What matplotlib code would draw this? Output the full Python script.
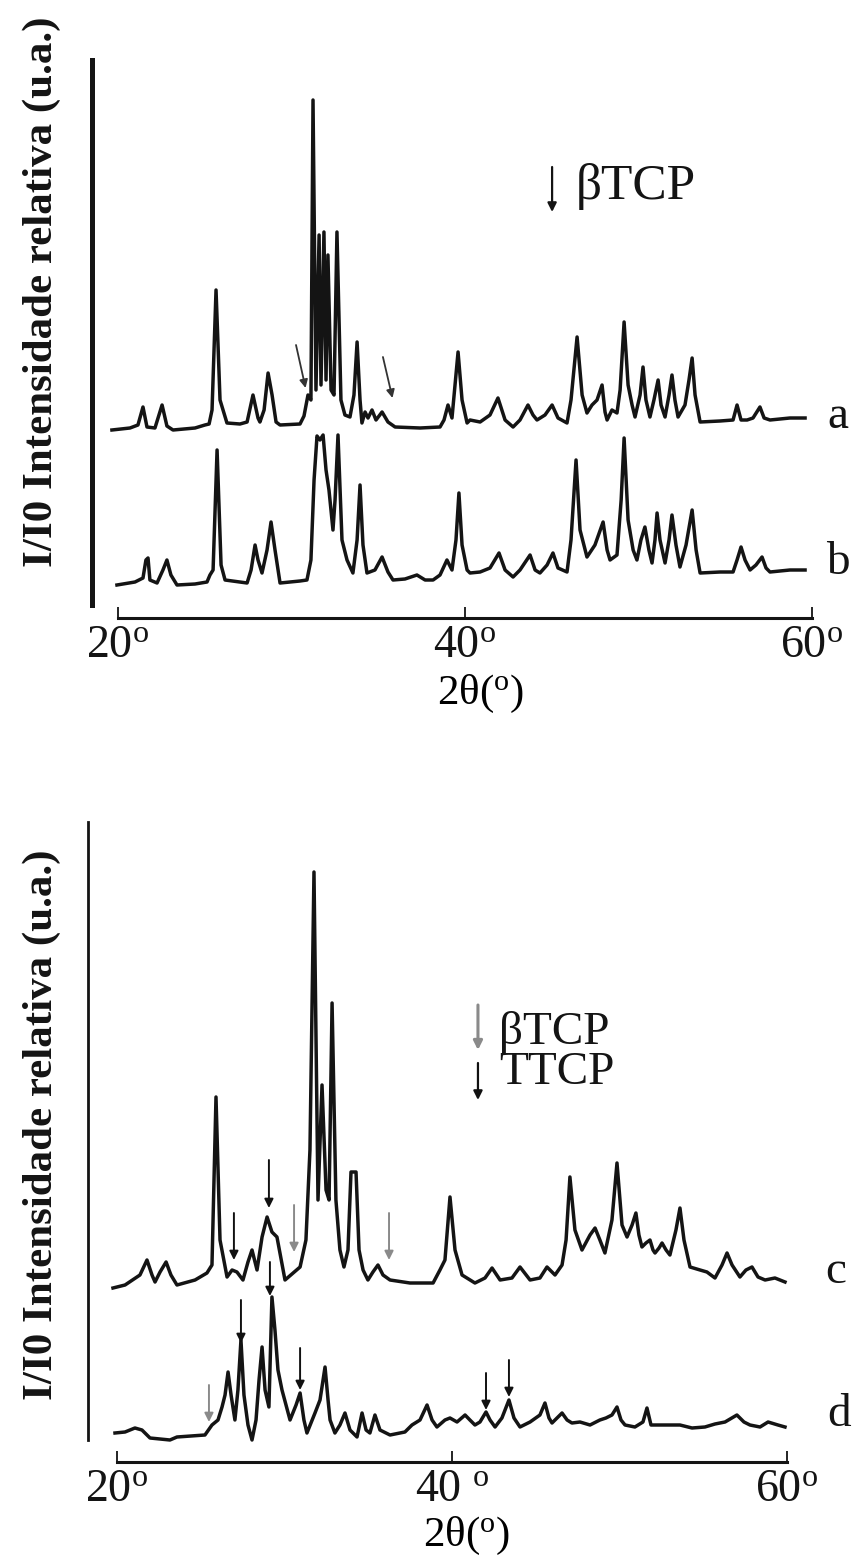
import matplotlib
matplotlib.use('Agg')
import matplotlib.pyplot as plt
from matplotlib.lines import Line2D

plt.rcParams['font.family'] = ['Liberation Serif', 'DejaVu Serif']
plt.rcParams['mathtext.fontset'] = 'custom'
plt.rcParams['mathtext.rm'] = 'Liberation Serif'
plt.rcParams['mathtext.it'] = 'Liberation Serif:italic'
plt.rcParams['mathtext.bf'] = 'Liberation Serif:bold'

# ---------------- data (2theta in degrees, relative intensity in a.u., stacked) ----------------
trace_a = [(19.65,188),(20.69,190),(21.15,193),(21.44,211),(21.67,191),(22.13,190),(22.54,213),(22.82,192),
           (23.17,188),(24.44,190),(25.01,193),(25.25,194),(25.42,208),(25.65,328),(25.88,218),(26.28,195),
           (27.03,194),(27.44,196),(27.78,223),(28.07,200),(28.18,196),(28.42,208),(28.65,245),(28.88,223),
           (29.11,196),(29.34,193),(30.49,194),(30.72,202),(30.95,223),(31.12,218),(31.24,518),(31.41,228),
           (31.59,383),(31.70,233),(31.87,386),(31.99,238),(32.10,363),(32.28,228),(32.45,223),(32.62,386),
           (32.85,218),(33.08,203),(33.37,201),(33.60,223),(33.78,276),(33.95,218),(34.06,195),(34.24,206),
           (34.41,200),(34.64,208),(34.87,198),(35.22,206),(35.56,196),(35.97,191),(37.41,190),(38.56,191),
           (38.79,198),(39.02,213),(39.25,200),(39.60,266),(39.83,218),(40.12,195),(40.29,198),(40.87,196),
           (41.44,203),(41.90,220),(42.31,198),(42.77,191),(43.17,198),(43.63,213),(43.92,203),(44.15,198),
           (44.61,203),(45.02,213),(45.36,200),(45.88,195),(46.11,218),(46.46,281),(46.75,223),(47.03,205),
           (47.32,213),(47.61,218),(47.90,233),(48.07,206),(48.19,198),(48.47,208),(48.76,205),(48.94,228),
           (49.17,296),(49.40,233),(49.63,213),(49.80,201),(50.09,223),(50.26,251),(50.43,218),(50.66,201),
           (50.89,218),(51.13,238),(51.30,213),(51.53,201),(51.76,223),(51.93,243),(52.10,218),(52.28,201),
           (52.68,213),(52.91,238),(53.09,260),(53.26,223),(53.55,196),(54.70,197),(55.45,198),(55.68,213),
           (55.91,198),(56.26,198),(56.60,200),(57.00,211),(57.24,200),(57.58,198),(58.73,200),(59.60,200)]

trace_b = [(19.94,33),(20.98,36),(21.44,40),(21.61,58),(21.73,60),(21.84,38),(22.25,35),(22.59,48),
           (22.82,58),(23.05,43),(23.40,33),(24.44,34),(25.13,36),(25.30,43),(25.48,48),(25.71,168),
           (25.94,53),(26.17,38),(27.44,35),(27.67,48),(27.90,73),(28.07,58),(28.30,45),(28.59,68),
           (28.82,96),(29.05,68),(29.34,35),(30.49,37),(30.89,38),(31.12,58),(31.30,138),(31.47,182),
           (31.64,178),(31.82,183),(31.99,148),(32.16,128),(32.39,88),(32.51,118),(32.68,183),(32.91,78),
           (33.20,58),(33.54,45),(33.78,78),(33.95,133),(34.12,73),(34.35,45),(34.81,48),(35.22,61),
           (35.56,46),(35.85,38),(36.54,39),(37.23,43),(37.70,38),(38.16,38),(38.56,43),(38.96,58),
           (39.25,48),(39.48,78),(39.65,125),(39.83,73),(40.12,48),(40.29,45),(40.87,46),(41.44,50),
           (41.96,65),(42.31,48),(42.77,41),(43.17,48),(43.75,63),(44.04,48),(44.32,45),(44.73,53),
           (45.07,65),(45.36,50),(45.88,46),(46.11,78),(46.40,158),(46.63,88),(47.03,61),(47.49,73),
           (47.96,96),(48.19,68),(48.36,58),(48.76,63),(49.00,118),(49.17,180),(49.40,98),(49.69,68),
           (49.91,58),(50.14,78),(50.37,91),(50.60,68),(50.78,55),(50.95,78),(51.07,105),(51.24,78),
           (51.53,55),(51.76,78),(51.93,103),(52.16,73),(52.39,51),(52.74,73),(53.09,108),(53.32,68),
           (53.55,45),(54.70,46),(55.45,46),(55.68,58),(55.91,71),(56.14,58),(56.43,48),(56.77,53),
           (57.12,61),(57.35,50),(57.58,46),(58.73,48),(59.60,48)]

trace_c = [(19.76,174),(20.48,177),(21.37,187),(21.79,202),(22.09,187),(22.27,180),(22.57,190),(22.93,200),
           (23.22,187),(23.58,177),(24.66,182),(25.37,189),(25.67,197),(25.91,365),(26.15,222),(26.57,185),
           (26.87,192),(27.16,190),(27.52,182),(27.82,200),(28.06,212),(28.36,192),(28.66,225),(28.96,245),
           (29.25,230),(29.55,225),(30.03,182),(30.93,195),(31.28,222),(31.52,312),(31.76,590),(32.00,262),
           (32.24,377),(32.48,272),(32.66,262),(32.84,459),(33.07,262),(33.31,212),(33.55,195),(33.79,212),
           (33.97,290),(34.27,290),(34.45,212),(34.69,192),(34.98,182),(35.28,190),(35.58,197),(35.88,187),
           (36.30,182),(37.49,179),(38.87,179),(39.28,192),(39.58,202),(39.88,265),(40.18,212),(40.60,187),
           (41.37,179),(41.97,184),(42.39,194),(42.87,182),(43.58,184),(44.06,195),(44.66,182),(45.25,184),
           (45.67,195),(46.15,187),(46.57,197),(46.81,222),(47.04,285),(47.34,232),(47.76,212),(48.24,227),
           (48.54,234),(48.83,222),(49.13,209),(49.55,242),(49.85,299),(50.15,237),(50.45,225),(50.75,237),
           (50.98,249),(51.16,227),(51.34,215),(51.58,219),(51.82,222),(52.00,212),(52.12,209),(52.36,214),
           (52.54,219),(52.78,212),(53.01,207),(53.37,232),(53.61,254),(53.85,222),(54.21,195),(54.81,192),
           (55.22,190),(55.70,184),(56.12,197),(56.42,209),(56.72,197),(57.19,185),(57.55,192),(57.91,195),
           (58.27,185),(58.69,182),(59.28,184),(59.88,180)]

trace_d = [(19.88,29),(20.48,30),(21.07,34),(21.49,32),(21.97,24),(23.16,22),(23.58,25),(25.25,27),
           (25.67,37),(26.03,42),(26.27,55),(26.45,67),(26.63,90),(26.81,67),(27.04,42),(27.22,72),
           (27.40,122),(27.58,67),(27.82,37),(28.06,22),(28.30,42),(28.48,82),(28.66,115),(28.84,72),
           (29.07,55),(29.25,165),(29.43,132),(29.61,92),(29.85,72),(30.33,42),(30.69,57),(30.93,69),
           (31.16,42),(31.34,29),(31.82,49),(32.12,62),(32.42,95),(32.60,62),(32.72,42),(33.01,29),
           (33.31,37),(33.61,49),(33.91,32),(34.33,25),(34.63,49),(34.87,32),(35.10,29),(35.40,47),
           (35.70,32),(36.30,27),(37.19,30),(37.61,37),(38.09,42),(38.51,57),(38.81,42),(39.10,35),
           (39.58,42),(39.88,44),(40.30,40),(40.78,47),(41.07,42),(41.37,37),(41.67,40),(42.03,50),
           (42.27,42),(42.57,35),(42.98,44),(43.40,62),(43.70,44),(44.06,35),(44.66,40),(45.25,47),
           (45.55,59),(45.79,44),(45.97,39),(46.27,44),(46.57,49),(46.87,42),(47.16,39),(47.64,40),
           (48.24,37),(48.83,42),(49.19,44),(49.55,47),(49.85,55),(50.09,42),(50.33,37),(50.92,35),
           (51.40,40),(51.64,54),(51.88,37),(52.72,37),(53.61,37),(54.33,34),(55.10,35),(55.70,38),
           (56.30,40),(57.01,47),(57.43,40),(57.79,37),(58.39,35),(58.87,40),(59.46,37),(59.88,35)]

# peak markers: (2theta, arrow start intensity, arrow tip intensity, phase)
markers_top = [(30.26, 273, 230, 'bTCP'), (35.27, 261, 220, 'bTCP')]
markers_bottom = [(26.98, 249, 202, 'TTCP'), (29.07, 302, 254, 'TTCP'), (30.57, 257, 210, 'bTCP'),
                  (36.24, 249, 202, 'bTCP'), (25.49, 77, 40, 'bTCP'), (27.40, 162, 119, 'TTCP'),
                  (29.13, 200, 166, 'TTCP'), (30.93, 114, 72, 'TTCP'), (42.03, 89, 52, 'TTCP'),
                  (43.40, 102, 65, 'TTCP')]

xticks = [20, 40, 60]
xticklabels_top = [r'20$^{\rm o}$', r'40$^{\rm o}$', r'60$^{\rm o}$']
xticklabels_bottom = [r'20$^{\rm o}$', r'40 $^{\rm o}$', r'60$^{\rm o}$']
xlabel = r'2θ($^{\rm o}$)'
ylabel = 'I/I0 Intensidade relativa (u.a.)'
phase_colors = {'bTCP': '#8a8a8a', 'TTCP': '#111111'}

# ---------------- figure ----------------
W, H = 859, 1556
fig = plt.figure(figsize=(W / 100, H / 100), dpi=100)


def box(x0, y0, x1, y1):
    return [x0 / W, 1 - y1 / H, (x1 - x0) / W, (y1 - y0) / H]


ax1 = fig.add_axes(box(118, 60, 812, 618))
ax2 = fig.add_axes(box(117, 820, 787, 1462))

LW = 2.5
ink = '#141414'


def style(ax, ymax, labels, lab_xy):
    ax.set_xlim(20, 60)
    ax.set_ylim(0, ymax)
    for s in ('top', 'right', 'left'):
        ax.spines[s].set_visible(False)
    ax.spines['bottom'].set_linewidth(2.2)
    ax.spines['bottom'].set_color(ink)
    ax.set_yticks([])
    ax.set_xticks(xticks)
    ax.set_xticklabels(labels, fontsize=33)
    ax.tick_params(axis='x', direction='in', length=8, width=1.3, pad=5, colors=ink)
    ax.set_xlabel(xlabel, fontsize=31)
    ax.xaxis.set_label_coords(*lab_xy)
    ax.patch.set_alpha(0)


def plot_trace(ax, tr):
    xs = [p[0] for p in tr]
    ys = [p[1] for p in tr]
    ax.plot(xs, ys, color=ink, lw=LW, solid_joinstyle='round', clip_on=False)


def arrow(ax, x, y0, y1, color, lw=1.4, ms=13):
    ax.annotate('', xy=(x, y1), xytext=(x, y0),
                arrowprops=dict(arrowstyle='-|>', color=color, lw=lw,
                                mutation_scale=ms, shrinkA=0, shrinkB=0))


# top panel
style(ax1, 558, xticklabels_top, (0.523, -0.098))
plot_trace(ax1, trace_a)
plot_trace(ax1, trace_b)
for x, y0, y1, ph in markers_top:
    ax1.annotate('', xy=(x + 0.55, y1), xytext=(x, y0),
                 arrowprops=dict(arrowstyle='-|>', color='#333333', lw=1.3,
                                 mutation_scale=12, shrinkA=0, shrinkB=0))
arrow(ax1, 45.02, 451, 406, ink, lw=1.6)
ax1.text(46.4, 431, 'βTCP', fontsize=37, va='center', ha='left', color=ink)
ax1.text(61.5, 201, 'a', fontsize=34, va='center', ha='center', color=ink, clip_on=False)
ax1.text(61.5, 55, 'b', fontsize=34, va='center', ha='center', color=ink, clip_on=False)

# bottom panel
style(ax2, 642, xticklabels_bottom, (0.522, -0.083))
plot_trace(ax2, trace_c)
plot_trace(ax2, trace_d)
for x, y0, y1, ph in markers_bottom:
    arrow(ax2, x, y0, y1, phase_colors[ph])
arrow(ax2, 41.55, 457, 412, phase_colors['bTCP'], lw=2.2)
arrow(ax2, 41.55, 399, 362, phase_colors['TTCP'], lw=1.6)
ax2.text(42.8, 429, 'βTCP', fontsize=34, va='center', ha='left', color=ink)
ax2.text(42.8, 389, 'TTCP', fontsize=34, va='center', ha='left', color=ink)
ax2.text(62.9, 190, 'c', fontsize=34, va='center', ha='center', color=ink, clip_on=False)
ax2.text(63.1, 47, 'd', fontsize=34, va='center', ha='center', color=ink, clip_on=False)

# vertical intensity bars and y labels
fig.add_artist(Line2D([92 / W, 92 / W], [1 - 60 / H, 1 - 605 / H], lw=3.6, color=ink))
fig.add_artist(Line2D([88 / W, 88 / W], [1 - 822 / H, 1 - 1440 / H], lw=2.0, color=ink))
fig.text(42 / W, 1 - 292 / H, ylabel, rotation=90, fontsize=31, fontweight='bold',
         ha='center', va='center', color=ink)
fig.text(42 / W, 1 - 1125 / H, ylabel, rotation=90, fontsize=31, fontweight='bold',
         ha='center', va='center', color=ink)

fig.savefig('out.png', dpi=100, facecolor='white')
